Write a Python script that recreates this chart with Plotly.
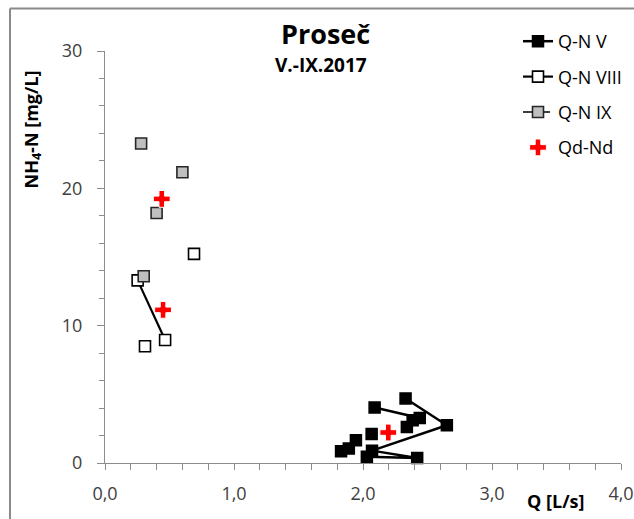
import plotly.graph_objects as go

# ---- data ----
# Q-N V (May) – None breaks separate un-connected points
q_v = [2.09, 2.44, None, 2.33, 2.65, 2.07, 2.42, 2.03, None, 2.385, None, 2.34, None, 2.067, None, 1.945, None, 1.89, None, 1.83]
n_v = [4.04, 3.28, None, 4.70, 2.75, 0.90, 0.37, 0.45, None, 3.12, None, 2.63, None, 2.12, None, 1.66, None, 1.05, None, 0.85]

# Q-N VIII (August)
q_viii = [0.69, None, 0.253, 0.466, None, 0.31]
n_viii = [15.23, None, 13.3, 8.96, None, 8.5]

# Q-N IX (September)
q_ix = [0.28, None, 0.60, None, 0.40, None, 0.30]
n_ix = [23.26, None, 21.17, None, 18.2, None, 13.6]

# Qd-Nd (mean values)
q_d = [0.44, 0.45, 2.196]
n_d = [19.23, 11.15, 2.22]

series_names = ["Q-N V", "Q-N VIII", "Q-N IX", "Qd-Nd"]
title_text = "Proseč"
subtitle_text = "V.-IX.2017"
y_title = "NH<sub>4</sub>-N [mg/L]"
x_title = "Q [L/s]"

FONT = "Open Sans"
W, H = 634, 519
L, R, T, B = 105, 13, 51, 56
PW, PH = W - L - R, H - T - B


def px_x(p):
    return (p - L) / PW


def px_y(p):
    return (H - B - p) / PH


fig = go.Figure()

fig.add_trace(go.Scatter(
    x=q_v, y=n_v, name=series_names[0], mode="lines+markers", legendgroup="g1",
    line=dict(color="black", width=2.5),
    marker=dict(symbol="square", size=11, color="black", line=dict(color="black", width=1.5)),
    cliponaxis=False, connectgaps=False,
))
fig.add_trace(go.Scatter(
    x=q_viii, y=n_viii, name=series_names[1], mode="lines+markers", legendgroup="g2",
    line=dict(color="black", width=2.2),
    marker=dict(symbol="square", size=11, color="white", line=dict(color="black", width=1.6)),
    cliponaxis=False, connectgaps=False,
))
fig.add_trace(go.Scatter(
    x=q_ix, y=n_ix, name=series_names[2], mode="lines+markers", legendgroup="g3",
    line=dict(color="black", width=1.6, dash="dash"),
    marker=dict(symbol="square", size=11, color="#BFBFBF", line=dict(color="#262626", width=1.6)),
    cliponaxis=False, connectgaps=False,
))
fig.add_trace(go.Scatter(
    x=q_d, y=n_d, name=series_names[3], mode="markers", legendgroup="g4",
    marker=dict(symbol="cross", size=14, color="#FF0000", line=dict(color="white", width=1)),
    cliponaxis=False,
))

axis_col = "#8C8C8C"
fig.update_xaxes(
    range=[0, 4], dtick=1, tick0=0, tickformat=".1f", automargin=False,
    showgrid=False, zeroline=False, showline=True, linecolor=axis_col, linewidth=1,
    ticks="outside", ticklen=6, tickcolor=axis_col, tickwidth=1,
    minor=dict(dtick=0.2, ticks="outside", ticklen=6, tickcolor=axis_col, tickwidth=1, showgrid=False),
    tickfont=dict(family=FONT, size=18, color="#404040"),
    ticklabelstandoff=8,
)
fig.update_yaxes(
    range=[0, 30], dtick=10, tick0=0, automargin=False,
    showgrid=False, zeroline=False, showline=True, linecolor=axis_col, linewidth=1,
    ticks="outside", ticklen=7, tickcolor=axis_col, tickwidth=1,
    minor=dict(dtick=2, ticks="outside", ticklen=5, tickcolor=axis_col, tickwidth=1, showgrid=False),
    tickfont=dict(family=FONT, size=18, color="#404040"),
    ticklabelstandoff=11,
)

ann = [
    dict(text="<b>%s</b>" % title_text, x=px_x(325), y=px_y(33), font=dict(family=FONT, size=27, color="black")),
    dict(text="<b>%s</b>" % subtitle_text, x=px_x(321), y=px_y(65), font=dict(family=FONT, size=19, color="black")),
    dict(text="<b>%s</b>" % y_title, x=px_x(31.5), y=px_y(130), textangle=-90, font=dict(family=FONT, size=18, color="black")),
    dict(text="<b>%s</b>" % x_title, x=px_x(555), y=px_y(501), font=dict(family=FONT, size=18, color="black")),
]
for a in ann:
    a.update(xref="paper", yref="paper", xanchor="center", yanchor="middle", showarrow=False)

border_col = "#8A8A8A"
shapes = [
    dict(type="line", xref="paper", yref="paper", x0=px_x(10), x1=px_x(640), y0=px_y(8.5), y1=px_y(8.5),
         line=dict(color=border_col, width=2)),
    dict(type="line", xref="paper", yref="paper", x0=px_x(10), x1=px_x(10), y0=px_y(8.5), y1=px_y(530),
         line=dict(color=border_col, width=2)),
]

fig.update_layout(
    width=W, height=H, margin=dict(l=L, r=R, t=T, b=B, pad=0, autoexpand=False),
    paper_bgcolor="white", plot_bgcolor="white",
    separators=", ",
    annotations=ann, shapes=shapes,
    showlegend=True,
    legend=dict(
        x=px_x(518), y=px_y(23), xanchor="left", yanchor="top",
        font=dict(family=FONT, size=18, color="black"),
        bgcolor="rgba(0,0,0,0)", traceorder="grouped",
        tracegroupgap=9, itemsizing="trace",
    ),
)

fig.write_html("out.html")
